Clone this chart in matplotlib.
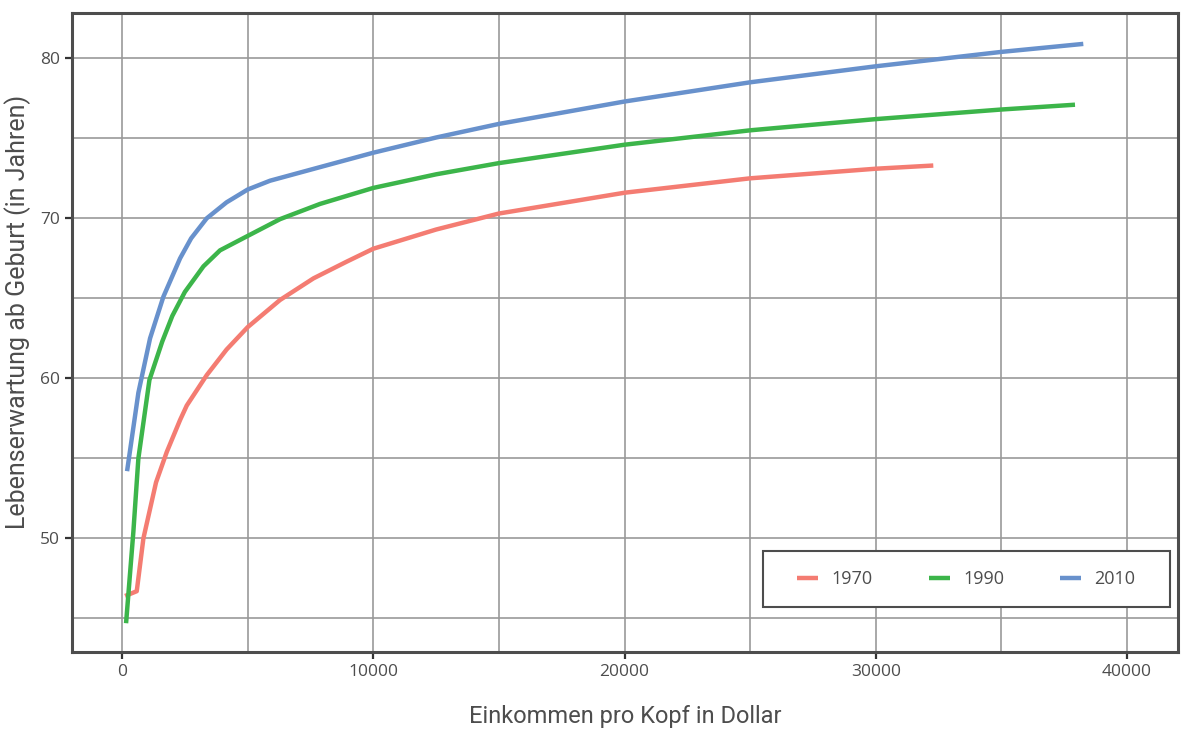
import matplotlib
matplotlib.use("Agg")
import matplotlib.pyplot as plt
from matplotlib.patches import Rectangle
from matplotlib.ticker import MultipleLocator

# income per head (dollar) and life expectancy
x_1970 = [120, 585, 850, 1353, 1780, 2310, 2575, 3370, 4160, 5000, 6290, 7620,
          8950, 10000, 12500, 15000, 20000, 25000, 30000, 32290]
y_1970 = [46.4, 46.7, 50.0, 53.5, 55.4, 57.4, 58.3, 60.2, 61.8, 63.2, 64.9, 66.25,
          67.3, 68.1, 69.3, 70.3, 71.6, 72.5, 73.1, 73.3]

x_1990 = [160, 450, 650, 1090, 1600, 2000, 2500, 3240, 3900, 5000, 6290, 7880,
          10000, 12500, 15000, 20000, 25000, 30000, 35000, 37930]
y_1990 = [44.7, 50.4, 55.0, 59.9, 62.3, 63.9, 65.4, 67.0, 68.0, 68.9, 69.95, 70.9,
          71.9, 72.75, 73.45, 74.6, 75.5, 76.2, 76.8, 77.1]

x_2010 = [200, 650, 1115, 1645, 1950, 2310, 2750, 3370, 4160, 5000, 5890, 7880,
          10000, 12500, 15000, 20000, 25000, 30000, 35000, 38260]
y_2010 = [54.2, 59.1, 62.5, 65.1, 66.2, 67.5, 68.75, 70.0, 71.0, 71.8, 72.35, 73.2,
          74.1, 75.05, 75.9, 77.3, 78.5, 79.5, 80.4, 80.9]

series = [("1970", x_1970, y_1970, "#f47c72"),
          ("1990", x_1990, y_1990, "#3cb54a"),
          ("2010", x_2010, y_2010, "#6891cc")]

label_font = ["Roboto", "DejaVu Sans"]
tick_font = ["Open Sans", "DejaVu Sans"]
dark = "#4d4d4d"

fig = plt.figure(figsize=(11.85, 7.35), dpi=100)
ax = fig.add_axes([0.0608, 0.1129, 0.9333, 0.8694])

for name, xs, ys, col in series:
    ax.plot(xs, ys, color=col, lw=3.2, label=name, solid_capstyle="butt",
            solid_joinstyle="round")

ax.set_xlim(-1990, 42030)
ax.set_ylim(42.9, 82.83)
ax.xaxis.set_major_locator(MultipleLocator(10000))
ax.xaxis.set_minor_locator(MultipleLocator(5000))
ax.yaxis.set_major_locator(MultipleLocator(10))
ax.yaxis.set_minor_locator(MultipleLocator(5))
ax.grid(which="both", color="#999999", lw=1.2)
ax.set_axisbelow(True)

for sp in ax.spines.values():
    sp.set_color(dark)
    sp.set_linewidth(2.2)
ax.tick_params(which="major", length=5, width=1.6, color="#333333",
               labelcolor=dark, labelsize=12.5)
ax.tick_params(which="minor", length=0)
for lab in ax.get_xticklabels() + ax.get_yticklabels():
    lab.set_family(tick_font)

ax.set_xlabel("Einkommen pro Kopf in Dollar", fontsize=17, color=dark,
              family=label_font)
ax.set_ylabel("Lebenserwartung ab Geburt (in Jahren)", fontsize=18, color=dark,
              family=label_font)
ax.xaxis.set_label_coords(0.5, -0.083)
ax.yaxis.set_label_coords(-0.037, 0.532)

# legend box drawn separately to get the wide side padding
ax.add_patch(Rectangle((0.6248, 0.0704), 0.368, 0.0876, transform=ax.transAxes,
                       facecolor="white", edgecolor=dark, lw=1.5, zorder=4))
leg = ax.legend(loc="center", bbox_to_anchor=(0.8087, 0.1142), ncol=3,
                frameon=False, handlelength=1.15, handletextpad=0.75,
                columnspacing=3.1, prop={"family": tick_font, "size": 13})
leg.set_zorder(5)
for t in leg.get_texts():
    t.set_color(dark)

fig.savefig("out.png", dpi=100)
